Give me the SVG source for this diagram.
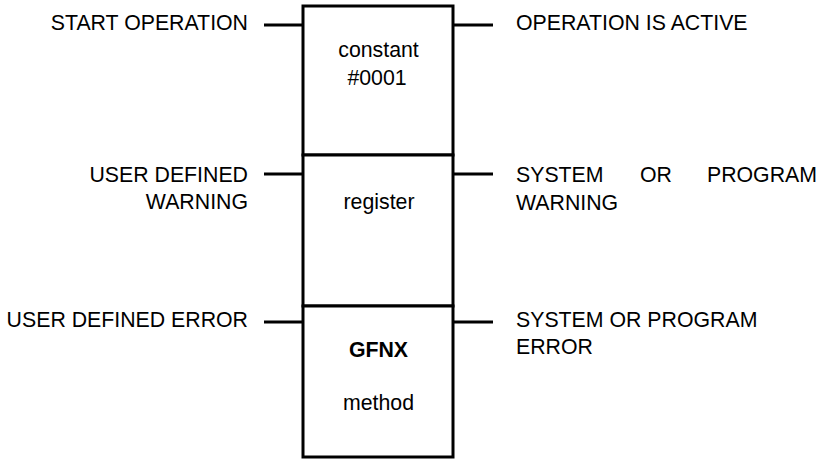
<svg xmlns="http://www.w3.org/2000/svg" width="825" height="459" viewBox="0 0 825 459">
  <style>
    .lbl { font-family: "Liberation Sans", Arial, Helvetica, sans-serif; font-size: 21.3px; fill: #000; }
    .mid { text-anchor: middle; }
    .end { text-anchor: end; }
    .bold { font-weight: bold; }
    .box { fill: #fff; stroke: #000; stroke-width: 3; }
    .wire { stroke: #000; stroke-width: 3; fill: none; }
  </style>
  <rect width="825" height="459" fill="#fff"/>

  <!-- connector stubs -->
  <g id="connectors">
    <line class="wire" x1="264" y1="25" x2="303" y2="25"/>
    <line class="wire" x1="453" y1="25" x2="493" y2="25"/>
    <line class="wire" x1="264" y1="174" x2="303" y2="174"/>
    <line class="wire" x1="453" y1="174" x2="493" y2="174"/>
    <line class="wire" x1="264" y1="322" x2="303" y2="322"/>
    <line class="wire" x1="453" y1="322" x2="493" y2="322"/>
  </g>

  <!-- function block, three stacked sections -->
  <g id="section-constant">
    <rect class="box" x="303" y="6" width="150" height="149"/>
    <text class="lbl mid" x="378.5" y="57">constant</text>
    <text class="lbl mid" x="377" y="85">#0001</text>
  </g>
  <g id="section-register">
    <rect class="box" x="303" y="155" width="150" height="151"/>
    <text class="lbl mid" x="379" y="209">register</text>
  </g>
  <g id="section-method">
    <rect class="box" x="303" y="306" width="150" height="151"/>
    <text class="lbl mid bold" x="378.5" y="357">GFNX</text>
    <text class="lbl mid" x="378.5" y="410">method</text>
  </g>

  <!-- input labels -->
  <g id="in-start">
    <text class="lbl end" x="248" y="30">START OPERATION</text>
  </g>
  <g id="in-warning">
    <text class="lbl end" x="248" y="182">USER DEFINED</text>
    <text class="lbl end" x="248" y="209">WARNING</text>
  </g>
  <g id="in-error">
    <text class="lbl end" x="248" y="327">USER DEFINED ERROR</text>
  </g>

  <!-- output labels -->
  <g id="out-active">
    <text class="lbl" x="516" y="30">OPERATION IS ACTIVE</text>
  </g>
  <g id="out-warning">
    <text class="lbl" x="516" y="182">SYSTEM</text>
    <text class="lbl" x="640" y="182">OR</text>
    <text class="lbl end" x="817" y="182">PROGRAM</text>
    <text class="lbl" x="516" y="210">WARNING</text>
  </g>
  <g id="out-error">
    <text class="lbl" x="516" y="327">SYSTEM OR PROGRAM</text>
    <text class="lbl" x="516" y="354">ERROR</text>
  </g>
</svg>
